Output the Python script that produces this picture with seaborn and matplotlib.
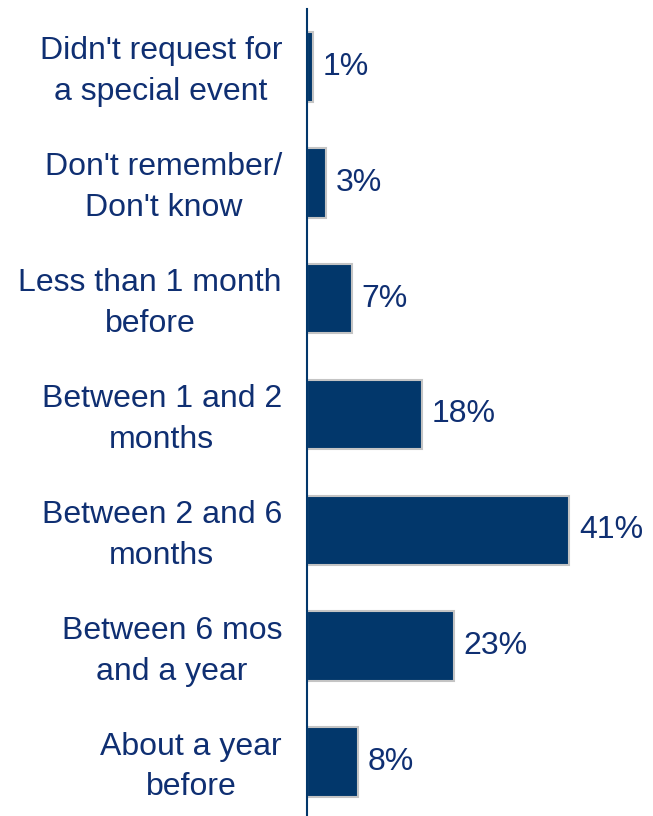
import matplotlib
matplotlib.use("Agg")
import matplotlib.pyplot as plt
import matplotlib.transforms as mtransforms
import seaborn as sns
import pandas as pd

categories = [
    "Didn't request for\na special event",
    "Don't remember/\nDon't know",
    "Less than 1 month\nbefore",
    "Between 1 and 2\nmonths",
    "Between 2 and 6\nmonths",
    "Between 6 mos\nand a year",
    "About a year\nbefore",
]
values = [1, 3, 7, 18, 41, 23, 8]

navy = "#02376b"
text_color = "#0f2f72"

sns.set_theme(style="white")
plt.rcParams["font.family"] = ["Liberation Sans", "DejaVu Sans"]

df = pd.DataFrame({"timing": categories, "share": values})

fig = plt.figure(figsize=(6.53, 8.16), dpi=100)
ax = fig.add_axes([307 / 653, -4 / 816, 346 / 653, 811 / 816])

sns.barplot(data=df, y="timing", x="share", orient="h", color=navy,
            saturation=1, width=0.6, edgecolor="#c4c4c4", linewidth=1.5, ax=ax)

ax.set_xlim(0, 54.1)
ax.set_ylim(len(categories) - 0.5, -0.5)
ax.set_xlabel("")
ax.set_ylabel("")
ax.set_xticks([])
ax.set_yticks(range(len(categories)))
ax.set_yticklabels(categories, fontsize=23, color=text_color,
                   multialignment="center", linespacing=1.47)
ax.tick_params(axis="y", length=0, pad=18)

# nudge the category labels up a few pixels
shift = mtransforms.ScaledTranslation(0, 4 / 100, fig.dpi_scale_trans)
for lbl in ax.get_yticklabels():
    lbl.set_transform(lbl.get_transform() + shift)

for s in ["top", "right", "bottom"]:
    ax.spines[s].set_visible(False)
ax.spines["left"].set_color(navy)
ax.spines["left"].set_linewidth(1.5)

for i, v in enumerate(values):
    ax.annotate(f"{v}%", xy=(v, i), xytext=(7, 0), textcoords="offset points",
                va="center", ha="left", fontsize=23, color=text_color)

fig.savefig("out.png", dpi=100)
